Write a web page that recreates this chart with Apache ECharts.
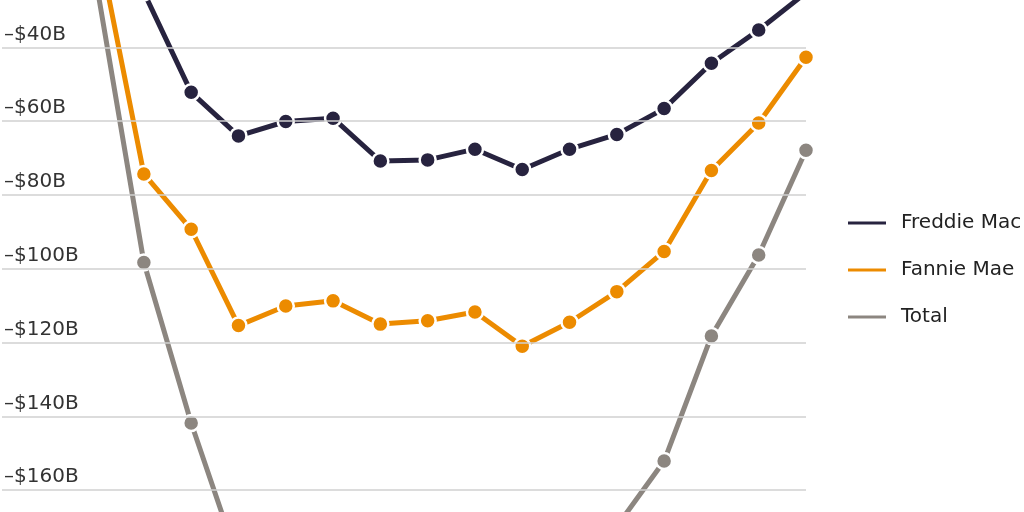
<!DOCTYPE html>
<html>
<head>
<meta charset="utf-8">
<script src="https://cdn.jsdelivr.net/npm/echarts@6/dist/echarts.min.js"></script>
<style>
html,body{margin:0;padding:0;background:#fff;}
#chart{width:1024px;height:512px;}
</style>
</head>
<body>
<div id="chart"></div>
<script>
// Categories (periods); the first two lie outside the visible crop
const categories = ['P1','P2','P3','P4','P5','P6','P7','P8','P9','P10','P11','P12','P13','P14','P15','P16','P17','P18'];
// Values in $B (negative)
const freddieMac = [null, null, -13.0, -25.1, -52.2, -64.0, -60.1, -59.2, -70.8, -70.5, -67.6, -73.1, -67.6, -63.6, -56.6, -44.3, -35.3, -25.2];
const fannieMae  = [null, null, -9.9, -74.3, -89.3, -115.4, -110.1, -108.7, -115.0, -114.1, -111.7, -121.0, -114.5, -106.2, -95.3, -73.4, -60.5, -42.7];
const total      = [null, null, -22.9, -98.3, -141.8, -179.4, -170.2, -167.9, -185.8, -184.6, -179.3, -194.1, -182.1, -169.8, -152.1, -118.2, -96.3, -67.9];
const yTicks = { min: -180, max: -20, interval: 20 };

const fontFamily = '"DejaVu Sans", "Liberation Sans", sans-serif';

function mkSeries(name, data, color) {
  return {
    name: name,
    type: 'line',
    data: data,
    clip: true,
    symbol: 'circle',
    symbolSize: 16,
    showSymbol: true,
    connectNulls: false,
    lineStyle: { color: color, width: 5 },
    itemStyle: { color: color, borderColor: '#ffffff', borderWidth: 2.5 },
    emphasis: { disabled: true },
    animation: false
  };
}

const chart = echarts.init(document.getElementById('chart'), null, { renderer: 'canvas' });
chart.setOption({
  backgroundColor: '#ffffff',
  animation: false,
  textStyle: { fontFamily: fontFamily },
  grid: { left: 2, right: 218, top: -26.5, bottom: -52, outerBoundsMode: 'none', containLabel: false },
  legend: {
    orient: 'vertical',
    left: 841,
    top: 208,
    itemWidth: 40,
    itemHeight: 5,
    itemGap: 27,
    icon: 'rect',
    textStyle: { fontFamily: fontFamily, fontSize: 20, color: '#222222', padding: [0, 0, 0, 9] },
    data: ['Freddie Mac', 'Fannie Mae', 'Total']
  },
  xAxis: {
    type: 'category',
    data: categories,
    boundaryGap: false,
    axisLine: { show: false },
    axisTick: { show: false },
    axisLabel: { show: false },
    splitLine: { show: false }
  },
  yAxis: {
    type: 'value',
    min: yTicks.min,
    max: yTicks.max,
    interval: yTicks.interval,
    axisLine: { show: false },
    axisTick: { show: false },
    splitLine: { show: true, lineStyle: { color: '#d0d0d0', width: 1.5 } },
    axisLabel: {
      inside: true,
      margin: 2,
      verticalAlign: 'bottom',
      padding: [0, 0, 3, 0],
      fontFamily: fontFamily,
      fontSize: 20,
      color: '#333333',
      formatter: function (v) { return '\u2013$' + Math.abs(v) + 'B'; }
    },
    z: 10
  },
  series: [
    mkSeries('Total', total, '#8c8680'),
    mkSeries('Fannie Mae', fannieMae, '#ec8b00'),
    mkSeries('Freddie Mac', freddieMac, '#27233f')
  ]
});
</script>
</body>
</html>
